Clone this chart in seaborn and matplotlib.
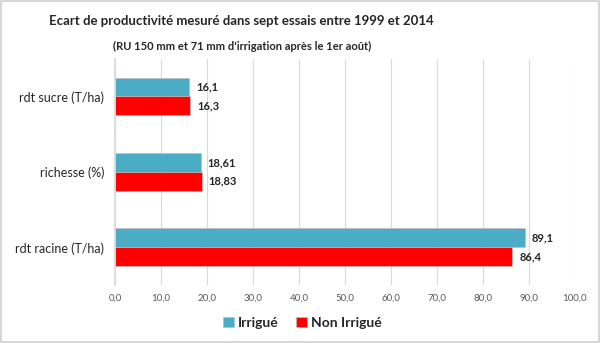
import matplotlib
matplotlib.use("Agg")
import matplotlib.pyplot as plt
import seaborn as sns
import pandas as pd

categories = ["rdt sucre (T/ha)", "richesse (%)", "rdt racine (T/ha)"]
irrigue = [16.1, 18.61, 89.1]
non_irrigue = [16.3, 18.83, 86.4]
irrigue_labels = ["16,1", "18,61", "89,1"]
non_irrigue_labels = ["16,3", "18,83", "86,4"]
series = ["Irrigué", "Non Irrigué"]
xticks = [0, 10, 20, 30, 40, 50, 60, 70, 80, 90, 100]

df = pd.DataFrame({
    "cat": categories * 2,
    "val": irrigue + non_irrigue,
    "serie": [series[0]] * 3 + [series[1]] * 3,
})

sns.set_theme(style="white")
plt.rcParams["font.family"] = ["Lato", "DejaVu Sans"]

fig = plt.figure(figsize=(6, 3.43), dpi=100)
ax = fig.add_axes([0.192, 0.169, 0.766, 0.66])
palette = {series[0]: "#4BACC6", series[1]: "#FF0000"}
sns.barplot(data=df, y="cat", x="val", hue="serie", order=categories,
            hue_order=series, palette=palette, width=0.5, orient="h",
            edgecolor="#bfbfbf", linewidth=0.5, saturation=1, ax=ax, legend=True)

ax.set_xlim(0, 100)
ax.set_ylim(2.5, -0.5)
ax.set_xticks(xticks)
ax.set_xticklabels([f"{t:.1f}".replace(".", ",") for t in xticks], fontsize=7, color="#595959")
ax.tick_params(axis="x", length=0, pad=6)
ax.tick_params(axis="y", length=0, pad=8)
ax.set_yticklabels(categories, fontsize=9, color="#262626")
ax.set_xlabel("")
ax.set_ylabel("")
ax.grid(axis="x", color="#d9d9d9", linewidth=0.8)
ax.set_axisbelow(True)
for s in ["top", "right", "bottom"]:
    ax.spines[s].set_visible(False)
ax.spines["left"].set_color("#d9d9d9")

for i, c in enumerate(ax.containers):
    labs = irrigue_labels if i == 0 else non_irrigue_labels
    ax.bar_label(c, labels=labs, padding=5, fontsize=8, fontweight="bold", color="#262626")

leg = ax.legend(loc="upper center", bbox_to_anchor=(0.407, -0.085), ncol=2,
                frameon=False, fontsize=10, handlelength=0.8, handleheight=0.8,
                handletextpad=0.3, columnspacing=1.2)
for t in leg.get_texts():
    t.set_color("#262626")
    t.set_fontweight("bold")

fig.text(0.403, 0.94, "Ecart de productivité mesuré dans sept essais entre 1999 et 2014",
         ha="center", va="center", fontsize=9.5, fontweight="bold", color="#262626")
fig.text(0.403, 0.865, "(RU 150 mm et 71 mm d'irrigation après le 1er août)",
         ha="center", va="center", fontsize=8, fontweight="bold", color="#262626")

fig.patches.append(plt.Rectangle((0.002, 0.003), 0.996, 0.994, transform=fig.transFigure,
                                 fill=False, edgecolor="#d0d0d0", linewidth=1.2))
fig.savefig("out.png", dpi=100, facecolor="white")
